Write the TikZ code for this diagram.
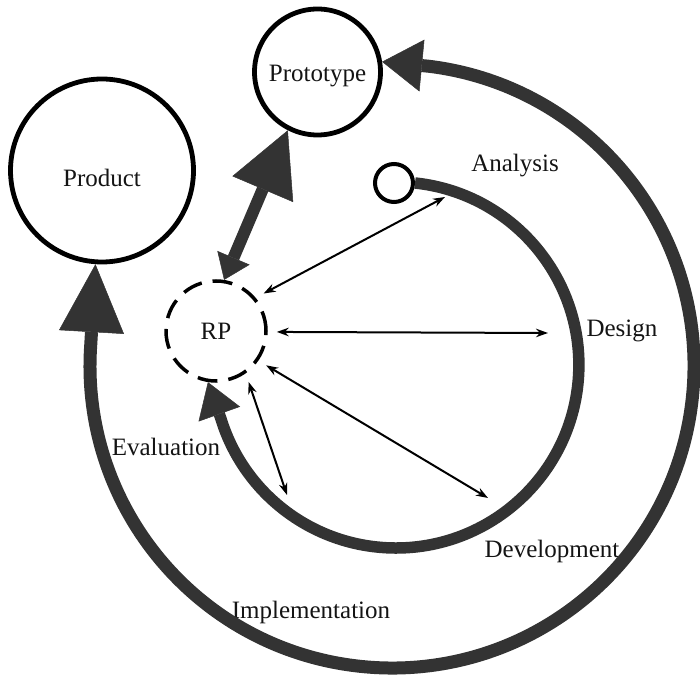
\documentclass[tikz,border=0pt]{standalone}
\usepackage{fontspec}
\setmainfont{Liberation Serif}
\usetikzlibrary{arrows.meta,calc}
\definecolor{arcgray}{HTML}{333333}
\definecolor{txt}{HTML}{141414}
\begin{document}
\begin{tikzpicture}[x=1pt,y=1pt,
  every node/.style={font=\fontsize{25}{30}\selectfont, text=txt},
  bigcirc/.style={circle, draw=black, line width=4.8pt, inner sep=0pt},
  arcline/.style={draw=arcgray, line cap=butt},
  thinarr/.style={draw=black, line width=2pt,
    arrows={Stealth[length=12pt,width=8.5pt]-Stealth[length=12pt,width=8.5pt]},
    shorten <=9pt}]
\useasboundingbox (0,0) rectangle (700,680);

% nodes
\node[bigcirc, minimum size=183pt, text height=33pt, text depth=0pt] (product) at (102,509.5) {Product};
\node[bigcirc, minimum size=126pt, text height=20pt, text depth=0pt] (proto) at (317.5,608) {Prototype};
\node[circle, draw=black, line width=4pt, minimum size=38pt, inner sep=0pt] (start) at (394,497) {};
\node[circle, draw=black, line width=3.5pt, dash pattern=on 20pt off 11pt, minimum size=100pt, inner sep=0pt] (rp) at (216,349) {RP};

% labels
\node[anchor=base] (lana) at (515,508) {Analysis};
\node[anchor=base] (ldes) at (622,343) {Design};
\node[anchor=base] (ldev) at (552,123) {Development};
\node[anchor=base] (leva) at (166,225) {Evaluation};
\node[anchor=base] (limp) at (311,62) {Implementation};

% free ends
\coordinate (aA) at (445,483);
\coordinate (aD) at (548,347);
\coordinate (aV) at (488,182);
\coordinate (aS) at (287,185);
\coordinate (oc) at (392,314);

% outer arc: Implementation loop
\draw[arcline, line width=13pt,
  arrows={Triangle[length=40pt,width=52pt,line width=0.5pt]-Triangle[length=68pt,width=65pt,line width=0.5pt]}]
  (proto.9) -- ($(oc)+(83:302)$) arc[start angle=83, end angle=-184, radius=302] -- (product.266);

% inner arc: Analysis -> Design -> Development -> Evaluation
\draw[arcline, line width=11.5pt,
  arrows={-Triangle[length=34pt,width=44pt,line width=0.5pt]}]
  (start.east) arc[start angle=84, end angle=-163, radius=183] -- (rp.261);

% RP <-> Prototype
\draw[arcline, line width=12pt,
  arrows={Triangle[length=24pt,width=35pt,line width=0.5pt]-Triangle[length=64pt,width=66pt,line width=0.5pt]}]
  (rp.81) -- (proto.243);

% thin arrows
\draw[thinarr] (rp.40) -- (aA);
\draw[thinarr] (rp.359) -- (aD);
\draw[thinarr] (rp.325) -- (aV);
\draw[thinarr] (rp.305) -- (aS);
\end{tikzpicture}
\end{document}
